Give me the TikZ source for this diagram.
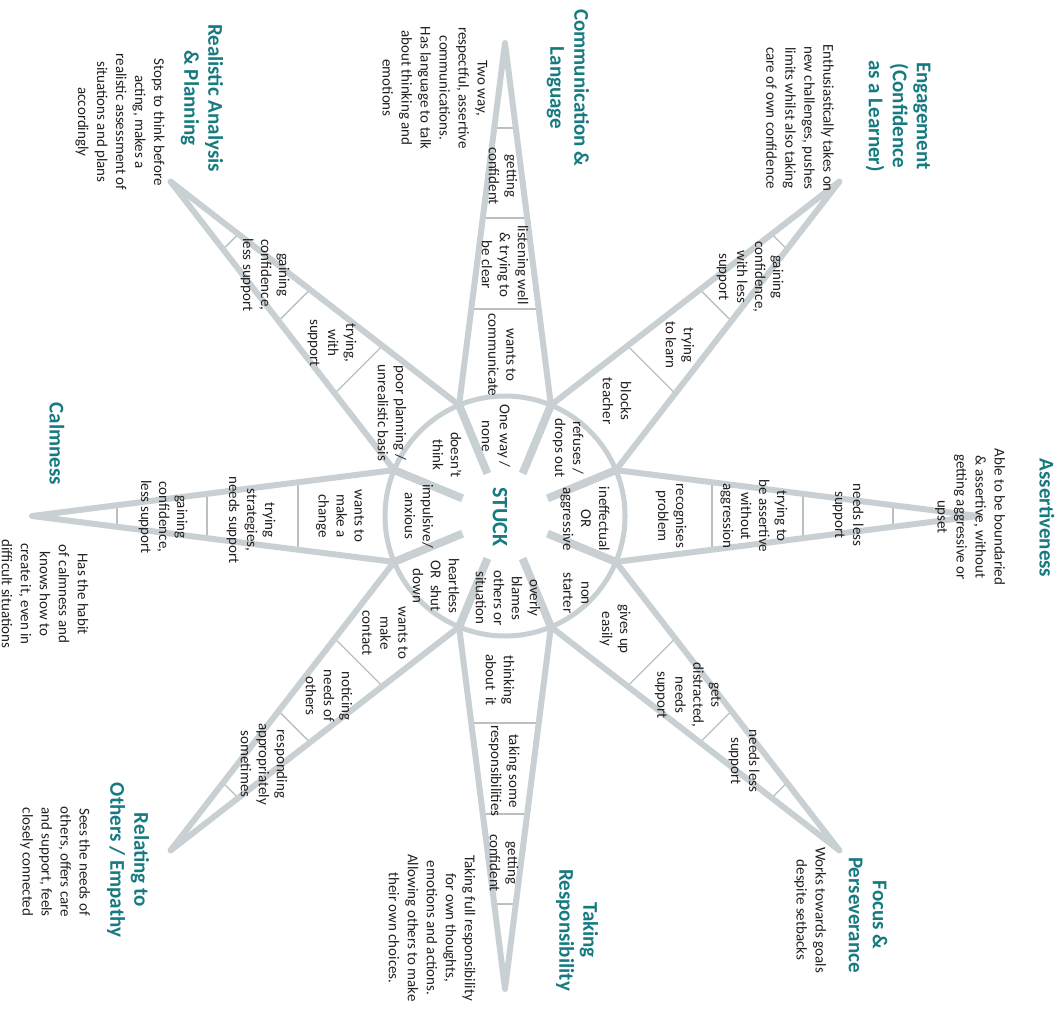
\documentclass[tikz,border=0pt]{standalone}
\usepackage{fontspec}
\setmainfont{Carlito}
\usetikzlibrary{calc}
\definecolor{spk}{RGB}{201,208,212}
\definecolor{rungc}{RGB}{186,191,194}
\definecolor{headc}{RGB}{22,122,128}
\definecolor{ink}{RGB}{35,31,32}
\begin{document}
\begin{tikzpicture}[x=1pt,y=-1pt,
  lbl/.style={rotate=-90, align=center, inner sep=0pt, text=ink, font=\fontsize{15}{18}\selectfont},
  desc/.style={lbl, font=\fontsize{15}{19}\selectfont},
  head/.style={rotate=-90, align=center, inner sep=0pt, text=headc, font=\bfseries\fontsize{21}{24}\selectfont},
  stuckstyle/.style={rotate=-90, inner sep=0pt, text=headc, font=\bfseries\fontsize{22}{24}\selectfont},
  spikeline/.style={draw=spk, line width=6pt, line join=round},
  rungline/.style={draw=rungc, line width=1.3pt},
  spokeline/.style={draw=spk, line width=8pt}
]
\useasboundingbox (0,0) rectangle (1062,1011);
\coordinate (C) at (505,516);
% spikes with rungs
\foreach \a [count=\i] in {0,45,90,135,180,225,270,315} {
  \coordinate (T\i) at ($(C)+(\a:473)$);
  \coordinate (L\i) at ($(C)+(\a-22.5:120)$);
  \coordinate (R\i) at ($(C)+(\a+22.5:120)$);
  \foreach \t in {0.2654,0.5167,0.7652}
    \draw[rungline] ($(L\i)!\t!(T\i)$) -- ($(R\i)!\t!(T\i)$);
}
\foreach \i in {1,...,8}
  \draw[spikeline] (L\i) -- (T\i) -- (R\i);
% circle and spokes
\draw[draw=spk, line width=5pt] (C) circle[radius=120pt];
\foreach \a in {22.5,67.5,112.5,157.5,202.5,247.5,292.5,337.5}
  \draw[spokeline] ($(C)+(\a:122)$) -- ($(C)+(\a:46)$);

% centre
\node[stuckstyle] (S) at (500,517) {STUCK};
\node[lbl] (i1) at (496,436) {One way /\\none};
\node[lbl] (i2) at (568,448) {refuses /\\drops out};
\node[lbl] (i3) at (585,519) {ineffectual\\OR\\aggressive};
\node[lbl] (i4) at (576,593) {non\\starter};
\node[lbl] (i5) at (508,598) {overly\\blames\\others or\\situation};
\node[lbl] (i6) at (436,586) {heartless\\OR\ \ shut\\down};
\node[lbl] (i7) at (419,516) {impulsive/\\anxious};
\node[lbl] (i8) at (447,455) {doesn't\\think};

% top: communication
\node[head] (hComm) at (568,88) {Communication \&\\Language};
\node[desc] (dComm) at (435,88) {Two way,\\respectful, assertive\\communications.\\Has language to talk\\about thinking and\\emotions};
\node[lbl] (c1) at (503,176) {getting\\confident};
\node[lbl] (c2) at (505,265) {listening well\\\& trying to\\be clear};
\node[lbl] (c3) at (502,355) {wants to\\communicate};

% upper right: engagement
\node[head] (hEng) at (898,116) {Engagement\\(Confidence\\as a Learner)};
\node[desc] (dEng) at (800,118) {Enthusiastically takes on\\new challenges, pushes\\limits whilst also taking\\care of own confidence};
\node[lbl] (e1) at (750,277) {gaining\\confidence,\\with less\\support};
\node[lbl] (e2) at (680,345) {trying\\to learn};
\node[lbl] (e3) at (617,401) {blocks\\teacher};

% right: assertiveness
\node[head] (hAss) at (1047,518) {Assertiveness};
\node[desc] (dAss) at (970,517) {Able to be boundaried\\\& assertive, without\\getting aggressive or\\upset};
\node[lbl] (a1) at (848,515) {needs less\\support};
\node[lbl] (a2) at (754,516) {trying to\\be assertive\\without\\aggression};
\node[lbl] (a3) at (671,516) {recognises\\problem};

% lower right: focus
\node[head] (hFoc) at (868,915) {Focus \&\\Perseverance};
\node[desc] (dFoc) at (810,910) {Works towards goals\\despite setbacks};
\node[lbl] (f1) at (615,629) {gives up\\easily};
\node[lbl] (f2) at (688,695) {gets\\distracted,\\needs\\support};
\node[lbl] (f3) at (744,761) {needs less\\support};

% bottom: responsibility
\node[head] (hRes) at (577,930) {Taking\\Responsibility};
\node[desc] (dRes) at (432,928) {Taking full responsibility\\for own thoughts,\\emotions and actions.\\Allowing others to make\\their own choices.};
\node[lbl] (r1) at (500,680) {thinking\\about\ \ it};
\node[lbl] (r2) at (504,771) {taking some\\responsibilities};
\node[lbl] (r3) at (504,863) {getting\\confident};

% lower left: relating
\node[head] (hRel) at (128,860) {Relating to\\Others / Empathy};
\node[desc] (dRel) at (55,862) {Sees the needs of\\others, offers care\\and support, feels\\closely connected};
\node[lbl] (o1) at (385,633) {wants to\\make\\contact};
\node[lbl] (o2) at (329,696) {noticing\\needs of\\others};
\node[lbl] (o3) at (264,764) {responding\\appropriately\\sometimes};

% left: calmness
\node[head] (hCalm) at (57,444) {Calmness};
\node[desc] (dCalm) at (45,594) {Has the habit\\of calmness and\\knows how to\\create it, even in\\difficult situations};
\node[lbl] (m1) at (340,516) {wants to\\make a\\change};
\node[lbl] (m2) at (251,520) {trying\\strategies,\\needs support};
\node[lbl] (m3) at (163,517) {gaining\\confidence,\\less support};

% upper left: realistic analysis
\node[head] (hReal) at (202,98) {Realistic Analysis\\\& Planning};
\node[desc] (dReal) at (120,122) {Stops to think before\\acting, makes a\\realistic assessment of\\situations and plans\\accordingly};
\node[lbl] (p1) at (392,413) {poor planning /\\unrealistic basis};
\node[lbl] (p2) at (332,343) {trying,\\with\\support};
\node[lbl] (p3) at (265,275) {gaining\\confidence,\\less support};
\end{tikzpicture}
\end{document}
